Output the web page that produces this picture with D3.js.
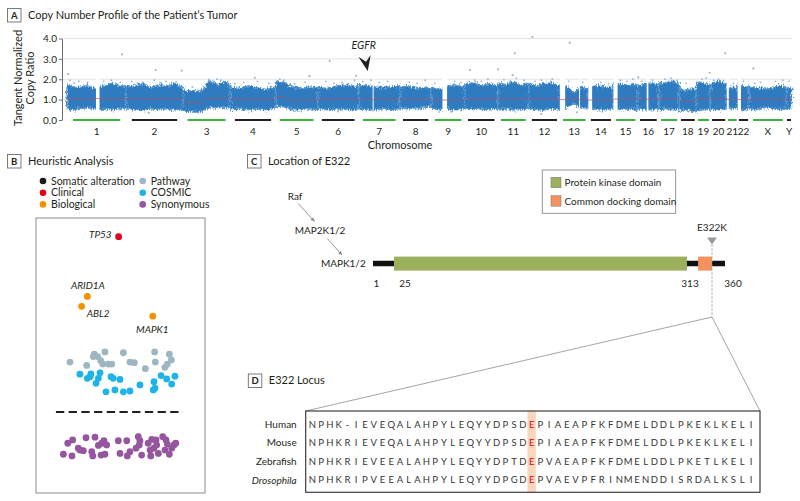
<!DOCTYPE html>
<html><head><meta charset="utf-8">
<script src="https://cdn.jsdelivr.net/npm/d3@7"></script>
<style>
body{margin:0;background:#fff;}
svg{display:block;font-family:Lato,"Open Sans",sans-serif;}
</style></head><body>
<svg id="c" width="800" height="501"></svg>
<script>
// ---------------- DATA ----------------
// Panel A
const chromosomes = ["1","2","3","4","5","6","7","8","9","10","11","12","13","14","15","16","17","18","19","20","21","22","X","Y"];
const chromExtent = [59.2,56.7,47.6,45.3,42.2,40.9,41.2,31.7,33.2,33.2,30.9,31.4,28.3,25.1,24.4,21.1,20.3,17.3,13.9,16.5,10.9,11.5,37.3,5.0];
const bandTop = [
 [1.75,1.62,1.6,1.7,1.55,1.6,1.72,1.8,1.65,1.7],
 [1.7,1.65,1.78,1.6,1.72,1.65,1.8,1.62],
 [1.5,1.42,1.45,1.38,1.55,1.95,1.8,1.75,1.88,1.7],
 [1.62,1.55,1.68,1.58,1.5,1.62],
 [1.9,1.85,1.62,1.55,1.62,1.55],
 [1.6,1.55,1.68,1.72,1.6],
 [1.75,1.68,1.62,1.6,1.62,1.68],
 [1.6,1.68,1.55,1.62,1.5],
 [1.6,1.5,1.68,1.72,1.6],
 [1.75,1.82,1.7,1.78,1.65],
 [1.82,1.75,1.88,1.7,1.78],
 [1.8,1.7,1.78,1.82,1.7],
 [1.7,1.62,1.35,1.62,1.5],
 [1.6,1.68,1.62,1.6],
 [1.8,1.75,1.7,1.78],
 [1.7,1.78,1.82,1.72],
 [1.85,1.8,1.9,1.8],
 [1.6,1.42,1.52,1.5],
 [1.9,1.8,1.72],
 [1.8,1.9,1.75],
 [1.5,1.62,1.55],
 [1.72,1.65,1.6],
 [1.65,1.6,1.55,1.5,1.62,1.68,1.6],
 [1.6,1.55]
];
const bandBottom = [
 [0.55,0.5,0.58,0.6,0.55,0.5,0.55,0.5,0.58,0.55],
 [0.55,0.5,0.45,0.55,0.5,0.55,0.5,0.55],
 [0.45,0.42,0.45,0.4,0.5,0.6,0.6,0.62,0.6,0.6],
 [0.5,0.55,0.5,0.55,0.5,0.6],
 [0.7,0.65,0.5,0.5,0.55,0.5],
 [0.55,0.5,0.55,0.5,0.55],
 [0.55,0.5,0.5,0.55,0.5,0.55],
 [0.6,0.55,0.55,0.6,0.7],
 [0.55,0.5,0.55,0.5,0.55],
 [0.55,0.5,0.55,0.5,0.55],
 [0.5,0.55,0.5,0.5,0.55],
 [0.55,0.5,0.5,0.55,0.5],
 [0.55,0.6,0.8,0.6,0.6],
 [0.55,0.5,0.5,0.55],
 [0.55,0.5,0.55,0.5],
 [0.55,0.5,0.5,0.55],
 [0.5,0.55,0.5,0.5],
 [0.45,0.5,0.45,0.4],
 [0.45,0.5,0.55],
 [0.55,0.5,0.55],
 [0.6,0.55,0.6],
 [0.55,0.5,0.55],
 [0.55,0.5,0.6,0.6,0.55,0.5,0.55],
 [0.5,0.6]
];
const dataGaps = [["1",0.49,0.55],["7",0.34,0.35],["9",0.33,0.47],["13",0,0.18],["13",0.67,0.7],["14",0,0.15],["15",0,0.17],["16",0.42,0.5],["21",0,0.18],["22",0,0.28]];
const medianSegments = [["1",0,1,1.05],["2",0,1,1.03],["3",0,0.45,0.87],["3",0.45,1,1.07],["4",0,1,1.0],["5",0,0.25,1.15],["5",0.25,1,0.98],["6",0,1,1.02],["7",0,1,1.0],["8",0,1,1.0],["9",0,1,0.98],["10",0,1,1.02],["11",0,1,1.03],["12",0,1,1.02],["13",0,1,1.0],["14",0,1,0.98],["15",0,1,1.03],["16",0,1,1.02],["17",0,1,1.04],["18",0,1,0.95],["19",0,1,1.03],["20",0,1,1.05],["21",0,1,1.0],["22",0,1,1.0],["X",0,1,1.0],["Y",0,1,1.0]];
const fringePoints = [
 ["1",0.05,1.95],["1",0.2,1.9],["1",0.35,1.85],["1",0.62,1.9],["1",0.75,1.95],["1",0.9,1.85],["1",0.12,1.82],["1",0.82,1.8],
 ["2",0.1,1.9],["2",0.3,1.85],["2",0.5,1.95],["2",0.7,1.9],["2",0.88,1.88],["2",0.2,1.82],["2",0.6,1.84],
 ["3",0.55,1.98],["3",0.65,1.9],["3",0.8,1.95],["3",0.95,1.9],["3",0.2,1.62],["3",0.72,2.0],
 ["4",0.3,1.85],["4",0.6,1.9],["4",0.85,1.8],["4",0.1,1.78],
 ["5",0.1,2.0],["5",0.2,1.95],["5",0.7,1.85],["5",0.45,1.78],
 ["6",0.2,1.9],["6",0.6,1.85],["6",0.9,1.95],["6",0.4,1.8],
 ["7",0.3,1.95],["7",0.7,1.9],["7",0.5,1.85],["7",0.1,1.88],
 ["8",0.3,1.85],["8",0.8,1.95],["8",0.55,1.8],
 ["9",0.7,1.9],["9",0.9,1.85],["9",0.1,1.8],
 ["10",0.3,1.95],["10",0.7,2.0],["10",0.5,1.9],
 ["11",0.2,1.98],["11",0.6,2.05],["11",0.85,1.95],["11",0.4,1.92],
 ["12",0.4,1.95],["12",0.75,2.0],["12",0.2,1.9],
 ["13",0.3,1.9],["13",0.8,1.85],
 ["14",0.5,1.85],["14",0.8,1.8],["15",0.3,1.95],["15",0.8,2.0],["15",0.55,1.9],
 ["16",0.7,1.95],["16",0.2,1.9],["17",0.3,2.0],["17",0.6,2.05],["17",0.9,1.95],
 ["18",0.4,1.8],["19",0.4,2.0],["19",0.7,2.05],["20",0.5,2.0],["20",0.2,1.95],
 ["21",0.6,1.8],["22",0.5,1.9],["X",0.3,1.85],["X",0.7,1.9],["X",0.9,1.95],["X",0.15,1.8],["Y",0.5,1.9]
];
const outlierPoints = [
 ["1",0.02,2.25],["1",0.93,3.22],["2",0.52,2.45],["2",0.98,2.42],["4",0.54,2.07],["5",0.8,2.15],
 ["6",0.29,2.9],["6",0.94,2.17],["10",0.16,2.45],["11",0.01,2.48],["11",0.55,3.27],["11",0.48,2.2],
 ["12",0.12,4.08],["13",0.34,3.79],["19",0.95,2.32],["20",0.9,3.27],["16",0.02,2.09],["X",0.11,2.53],
 ["2",0.4,0.35],["9",0.6,0.4],["12",0.4,0.3],["13",0.6,0.38],["6",0.5,0.42]
];
const yTicks = [0,1,2,3,4];
const egfr = {chr:"7", frac:0.22, value:2.4, label:"EGFR"};

// Panel B
const legendB = [
 {label:"Somatic alteration", color:"#1a1a1a"},
 {label:"Clinical", color:"#e3001b"},
 {label:"Biological", color:"#f39200"},
 {label:"Pathway", color:"#9db6c1"},
 {label:"COSMIC", color:"#1db3e8"},
 {label:"Synonymous", color:"#96559f"}
];
const namedGenes = [
 {gene:"TP53", cls:"Clinical", x:48.9, y:93.2},
 {gene:"ARID1A", cls:"Biological", x:30.4, y:71.5},
 {gene:"ABL2", cls:"Biological", x:27.0, y:67.9},
 {gene:"MAPK1", cls:"Biological", x:69.1, y:64.3}
];
const pathwayPts = [[20.1,47.6],[30.0,46.4],[34.5,50.5],[36.5,49.6],[38.3,48.1],[40.8,51.3],[39.5,46.9],[42.8,46.9],[44.8,46.9],[51.7,51.0],[55.6,47.6],[58.2,47.4],[64.7,45.2],[70.2,51.3],[70.6,47.6],[76.3,45.7],[77.7,46.9],[78.9,50.5],[80.1,48.4],[33.9,49.6]];
const cosmicPts = [[26.0,43.2],[30.4,41.7],[32.5,43.3],[37.9,43.7],[36.9,41.7],[35.5,39.9],[44.4,42.3],[45.7,41.7],[49.7,41.3],[41.4,36.8],[46.7,37.5],[51.7,36.8],[55.6,37.1],[61.5,39.3],[69.4,37.5],[69.8,40.5],[74.0,42.7],[77.3,41.5],[80.3,39.6],[82.2,42.5],[70.4,38.1],[32.0,42.3]];
const synonymousPts = [[16.2,14.1],[21.3,13.5],[18.8,18.1],[21.7,19.3],[25.0,16.3],[28.0,15.4],[29.6,20.1],[33.0,15.0],[33.6,13.5],[34.9,20.3],[36.9,17.3],[38.9,18.1],[40.2,19.0],[41.8,17.5],[38.5,13.8],[40.8,14.1],[48.7,19.0],[53.7,19.0],[49.7,14.4],[55.6,15.0],[54.0,13.5],[59.2,16.3],[60.5,20.5],[61.5,19.0],[61.1,17.5],[62.5,13.8],[66.4,18.1],[67.5,15.6],[67.9,13.5],[68.5,19.5],[71.0,19.3],[71.4,17.5],[69.8,16.3],[72.4,14.4],[75.0,20.5],[76.9,19.3],[77.7,17.8],[76.3,15.6],[78.9,14.1],[80.3,16.3],[81.7,17.5],[82.7,18.1],[26.0,15.6]];
const thresholdLine = {y:29.5, x0:11.8, x1:87.0};

// Panel C
const pathwayNames = ["Raf","MAP2K1/2","MAPK1/2"];
const proteinLength = 360;
const domains = [
 {name:"Protein kinase domain", start:25, end:313, color:"#9bb05c"},
 {name:"Common docking domain", start:317, end:322, color:"#f4915e"}
];
const proteinTicks = [1,25,313,360];
const mutation = {pos:322, label:"E322K"};

// Panel D
const species = ["Human","Mouse","Zebrafish","Drosophila"];
const sequences = [
 "NPHK-IEVEQALAHPYLEQYYDPSDEPIAEAPFKFDMELDDLPKEKLKELI",
 "NPHKRIEVEQALAHPYLEQYYDPSDEPIAEAPFKFDMELDDLPKEKLKELI",
 "NPHKRIEVEEALAHPYLEQYYDPTDEPVAEAPFKFDMELDDLPKETLKELI",
 "NPHKRIPVEEALAHPYLEQYYDPGDEPVAEVPFRINMENDDISRDALKSLI"
];
const highlightIndex = 25;

// ---------------- DRAW ----------------
const svg = d3.select("#c");
const txt = "#231f20";
const defs = svg.append("defs");
// speckle filter for the dense copy-ratio band
const flt = defs.append("filter").attr("id","speckle").attr("x","-2%").attr("y","-20%").attr("width","104%").attr("height","140%");
flt.append("feTurbulence").attr("type","fractalNoise").attr("baseFrequency","1.2 0.35").attr("numOctaves",2).attr("seed",3).attr("result","n");
flt.append("feDisplacementMap").attr("in","SourceGraphic").attr("in2","n").attr("scale",7).attr("xChannelSelector","R").attr("yChannelSelector","G");

function panelTitle(x, y, letter, title){
  const g = svg.append("g");
  g.append("rect").attr("x",x).attr("y",y-6.5).attr("width",13.5).attr("height",13.5)
    .attr("fill","#fff").attr("stroke","#6d6e70").attr("stroke-width",0.9);
  g.append("text").attr("x",x+6.75).attr("y",y+3.6).attr("text-anchor","middle")
    .attr("font-size",9.5).attr("font-weight",700).attr("fill",txt).text(letter);
  g.append("text").attr("x",x+20.5).attr("y",y+3.9).attr("font-size",11).attr("fill",txt).text(title);
}

// ===== Panel A =====
panelTitle(7.5, 15, "A", "Copy Number Profile of the Patient’s Tumor");
const total = d3.sum(chromExtent);
const starts = d3.cumsum([0, ...chromExtent.slice(0,-1)]);
const chrIndex = new Map(chromosomes.map((c,i)=>[c,i]));
const xA = d3.scaleLinear().domain([0,total]).range([67,791.5]);
const yA = d3.scaleLinear().domain([0,4]).range([120,38.5]);
const gpos = (c,f)=>{const i=chrIndex.get(c); return starts[i]+f*chromExtent[i];};

const gA = svg.append("g");
gA.append("g").selectAll("line").data(yTicks.filter(d=>d>0)).join("line")
  .attr("x1",62).attr("x2",792).attr("y1",d=>yA(d)).attr("y2",d=>yA(d))
  .attr("stroke","#e3e3e3").attr("stroke-width",1);

const area = d3.area().x(d=>xA(d.p)).y0(d=>yA(d.lo)).y1(d=>yA(d.hi)).curve(d3.curveLinear);
const bandG = gA.append("g").attr("filter","url(#speckle)");
chromosomes.forEach((c,i)=>{
  const n = bandTop[i].length;
  const pts = bandTop[i].map((t,k)=>({p:starts[i]+chromExtent[i]*(k/(n-1)), hi:t, lo:bandBottom[i][k]}));
  bandG.append("path").datum(pts).attr("d",area).attr("fill","#2e7bbf")
    .attr("stroke","#5d9cd3").attr("stroke-width",1.4).attr("stroke-linejoin","round");
});
gA.append("g").selectAll("rect").data(dataGaps).join("rect")
  .attr("x",d=>xA(gpos(d[0],d[1]))).attr("width",d=>Math.max(1,xA(gpos(d[0],d[2]))-xA(gpos(d[0],d[1]))))
  .attr("y",yA(2.1)).attr("height",yA(0.3)-yA(2.1)).attr("fill","#fff");
gA.append("g").selectAll("line").data(medianSegments).join("line")
  .attr("x1",d=>xA(gpos(d[0],d[1]))).attr("x2",d=>xA(gpos(d[0],d[2])))
  .attr("y1",d=>yA(d[3])).attr("y2",d=>yA(d[3]))
  .attr("stroke","#c2486a").attr("stroke-width",1).attr("opacity",0.7);
gA.append("g").selectAll("circle").data(fringePoints).join("circle")
  .attr("cx",d=>xA(gpos(d[0],d[1]))).attr("cy",d=>yA(d[2])).attr("r",0.9)
  .attr("fill","#8cb5da");
gA.append("g").selectAll("circle").data(outlierPoints).join("circle")
  .attr("cx",d=>xA(gpos(d[0],d[1]))).attr("cy",d=>yA(d[2])).attr("r",1.1)
  .attr("fill","#a8b4be");
// chromosome bars and labels
gA.append("g").selectAll("line").data(chromosomes).join("line")
  .attr("x1",(c,i)=>xA(starts[i]+0.1*chromExtent[i])).attr("x2",(c,i)=>xA(starts[i]+0.9*chromExtent[i]))
  .attr("y1",yA(0)).attr("y2",yA(0))
  .attr("stroke",(c,i)=>i%2===0?"#3db33d":"#231f20").attr("stroke-width",2);
gA.append("g").selectAll("text").data(chromosomes).join("text")
  .attr("x",(c,i)=>xA(starts[i]+0.5*chromExtent[i])).attr("y",134.5)
  .attr("text-anchor","middle").attr("font-size",10).attr("fill",txt).text(d=>d);
// y axis
const axA = gA.append("g").attr("transform","translate(62,0)")
  .call(d3.axisLeft(yA).tickValues(yTicks).tickFormat(d3.format(".1f")).tickSize(3).tickSizeOuter(0).tickPadding(2));
axA.select(".domain").attr("stroke","#6d6e70");
axA.selectAll(".tick line").attr("stroke","#6d6e70");
axA.selectAll("text").attr("font-size",10).attr("fill",txt).attr("font-family","Lato, sans-serif");
gA.append("text").attr("transform","translate(22,78) rotate(-90)").attr("text-anchor","middle")
  .attr("font-size",11).attr("fill",txt).text("Tangent Normalized");
gA.append("text").attr("transform","translate(34,78) rotate(-90)").attr("text-anchor","middle")
  .attr("font-size",11).attr("fill",txt).text("Copy Ratio");
gA.append("text").attr("x",400).attr("y",149).attr("text-anchor","middle")
  .attr("font-size",11).attr("fill",txt).text("Chromosome");
// EGFR arrow
const ex = xA(gpos(egfr.chr, egfr.frac)), ey = yA(egfr.value);
gA.append("path").attr("d",`M${ex},${ey} L${ex-9.4},${ey-14.3} L${ex-1.7},${ey-9.3} L${ex+3},${ey-16} Z`)
  .attr("fill","#231f20");
gA.append("text").attr("x",ex-4).attr("y",ey-22).attr("text-anchor","middle").attr("font-size",10.5)
  .attr("font-style","italic").attr("fill",txt).text(egfr.label);

// ===== Panel B =====
panelTitle(7.5, 161, "B", "Heuristic Analysis");
const color = new Map(legendB.map(d=>[d.label,d.color]));
const gL = svg.append("g");
legendB.forEach((d,i)=>{
  const col = Math.floor(i/3), row = i%3;
  const lx = col===0?43:142.7, ly = 181+row*11.7;
  gL.append("circle").attr("cx",lx).attr("cy",ly).attr("r",3.3).attr("fill",d.color);
  gL.append("text").attr("x",lx+8).attr("y",ly+3.6).attr("font-size",10.5).attr("fill",txt).text(d.label);
});
const bx = d3.scaleLinear().domain([0,100]).range([36,205]);
const by = d3.scaleLinear().domain([0,100]).range([493,218]);
const gB = svg.append("g");
gB.append("rect").attr("x",bx(0)).attr("y",by(100)).attr("width",bx(100)-bx(0)).attr("height",by(0)-by(100))
  .attr("fill","#fff").attr("stroke","#8a8b8d").attr("stroke-width",1);
gB.append("line").attr("x1",bx(thresholdLine.x0)).attr("x2",bx(thresholdLine.x1))
  .attr("y1",by(thresholdLine.y)).attr("y2",by(thresholdLine.y))
  .attr("stroke","#231f20").attr("stroke-width",2).attr("stroke-dasharray","8.3,4.4");
const dotR = 3.4;
gB.append("g").selectAll("circle").data(pathwayPts).join("circle")
  .attr("cx",d=>bx(d[0])).attr("cy",d=>by(d[1])).attr("r",dotR).attr("fill",color.get("Pathway"));
gB.append("g").selectAll("circle").data(cosmicPts).join("circle")
  .attr("cx",d=>bx(d[0])).attr("cy",d=>by(d[1])).attr("r",dotR).attr("fill",color.get("COSMIC"));
gB.append("g").selectAll("circle").data(synonymousPts).join("circle")
  .attr("cx",d=>bx(d[0])).attr("cy",d=>by(d[1])).attr("r",dotR).attr("fill",color.get("Synonymous"));
gB.append("g").selectAll("circle").data(namedGenes).join("circle")
  .attr("cx",d=>bx(d.x)).attr("cy",d=>by(d.y)).attr("r",dotR).attr("fill",d=>color.get(d.cls));
const geneLabelPos = {TP53:[-7,1.5,"end"], ARID1A:[0.5,-7,"middle"], ABL2:[5,11,"start"], MAPK1:[-0.5,16.5,"middle"]};
gB.append("g").selectAll("text").data(namedGenes).join("text")
  .attr("x",d=>bx(d.x)+geneLabelPos[d.gene][0]).attr("y",d=>by(d.y)+geneLabelPos[d.gene][1])
  .attr("text-anchor",d=>geneLabelPos[d.gene][2])
  .attr("font-size",10).attr("font-style","italic").attr("fill",txt).text(d=>d.gene);

// ===== Panel C =====
panelTitle(247.5, 161, "C", "Location of E322");
const px = d3.scaleLinear().domain([1,25,313,322,360]).range([373,394,687,712,725]);
const gC = svg.append("g");
const protY = 263.6;
gC.append("line").attr("x1",px(1)).attr("x2",px(proteinLength)).attr("y1",protY).attr("y2",protY)
  .attr("stroke","#111").attr("stroke-width",5.5);
gC.append("g").selectAll("rect").data(domains).join("rect")
  .attr("x",d=>px(d.start)).attr("width",d=>px(d.end)-px(d.start))
  .attr("y",protY-7).attr("height",14).attr("fill",d=>d.color);
const tickDx = [3.5,11,3,8];
gC.append("g").selectAll("text").data(proteinTicks).join("text")
  .attr("x",(d,i)=>px(d)+tickDx[i]).attr("y",286.5).attr("text-anchor","middle")
  .attr("font-size",10).attr("fill",txt).text(d=>d);
// pathway
const pwPos = [[295,199.5,"middle"],[320,233.5,"middle"],[365.7,267,"end"]];
gC.append("g").selectAll("text").data(pathwayNames).join("text")
  .attr("x",(d,i)=>pwPos[i][0]).attr("y",(d,i)=>pwPos[i][1]).attr("text-anchor",(d,i)=>pwPos[i][2])
  .attr("font-size",10).attr("fill",txt).text(d=>d);
defs.append("marker").attr("id","ah").attr("viewBox","0 0 10 10").attr("refX",9).attr("refY",5)
  .attr("markerWidth",5).attr("markerHeight",5).attr("orient","auto")
  .append("path").attr("d","M0,1 L10,5 L0,9 Z").attr("fill","#8a8a8a");
[[298.3,203.5,314.5,221.5],[327.3,238.5,342,255]].forEach(a=>{
  gC.append("line").attr("x1",a[0]).attr("y1",a[1]).attr("x2",a[2]).attr("y2",a[3])
    .attr("stroke","#8a8a8a").attr("stroke-width",0.9).attr("marker-end","url(#ah)");
});
// legend
gC.append("rect").attr("x",542.3).attr("y",170).attr("width",133.4).attr("height",43.3)
  .attr("fill","#fff").attr("stroke","#8a8b8d").attr("stroke-width",0.9);
domains.forEach((d,i)=>{
  gC.append("rect").attr("x",551).attr("y",177.3+i*18.4).attr("width",10).attr("height",10.5)
    .attr("fill",d.color).attr("stroke","#777").attr("stroke-width",0.5);
  gC.append("text").attr("x",564.5).attr("y",186.3+i*18.4).attr("font-size",10).attr("fill",txt).text(d.name);
});
// mutation marker
const mx = px(mutation.pos);
gC.append("text").attr("x",mx).attr("y",230.5).attr("text-anchor","middle").attr("font-size",10).attr("fill",txt).text(mutation.label);
gC.append("path").attr("d",`M${mx-5},237.6 L${mx+5},237.6 L${mx},244.5 Z`).attr("fill","#9a9a9a");
gC.append("line").attr("x1",mx).attr("x2",mx).attr("y1",244.5).attr("y2",317)
  .attr("stroke","#9a9a9a").attr("stroke-width",1).attr("stroke-dasharray","2,2");

// ===== Panel D =====
panelTitle(248.3, 380.5, "D", "E322 Locus");
const boxL = 305.7, boxR = 760, boxT = 411, boxB = 492.3;
const gD = svg.append("g");
gD.append("line").attr("x1",mx).attr("y1",317).attr("x2",boxL).attr("y2",boxT).attr("stroke","#9a9a9a").attr("stroke-width",0.9);
gD.append("line").attr("x1",mx).attr("y1",317).attr("x2",boxR).attr("y2",boxT).attr("stroke","#9a9a9a").attr("stroke-width",0.9);
const sx = d3.scaleLinear().domain([0,50]).range([312.3,751]);
const ry = d3.scaleBand().domain(species).range([boxT+4,boxB-3]);
gD.append("rect").attr("x",sx(highlightIndex)-4.2).attr("width",8.4).attr("y",boxT).attr("height",boxB-boxT)
  .attr("fill","#fbd6bb");
gD.append("rect").attr("x",boxL).attr("y",boxT).attr("width",boxR-boxL).attr("height",boxB-boxT)
  .attr("fill","none").attr("stroke","#3c3c3c").attr("stroke-width",1.2);
species.forEach((s,i)=>{
  const cy = ry(s)+ry.bandwidth()/2;
  gD.append("text").attr("x",296.7).attr("y",cy+3.5).attr("text-anchor","end").attr("font-size",10)
    .attr("font-style",s==="Drosophila"?"italic":"normal").attr("fill",txt).text(s);
  gD.append("g").selectAll("text").data(sequences[i].split("")).join("text")
    .attr("x",(d,k)=>sx(k)).attr("y",cy+3.4).attr("text-anchor","middle").attr("font-size",9.5)
    .attr("fill",(d,k)=>k===highlightIndex?"#e3001b":"#333").text(d=>d);
});
</script></body></html>
